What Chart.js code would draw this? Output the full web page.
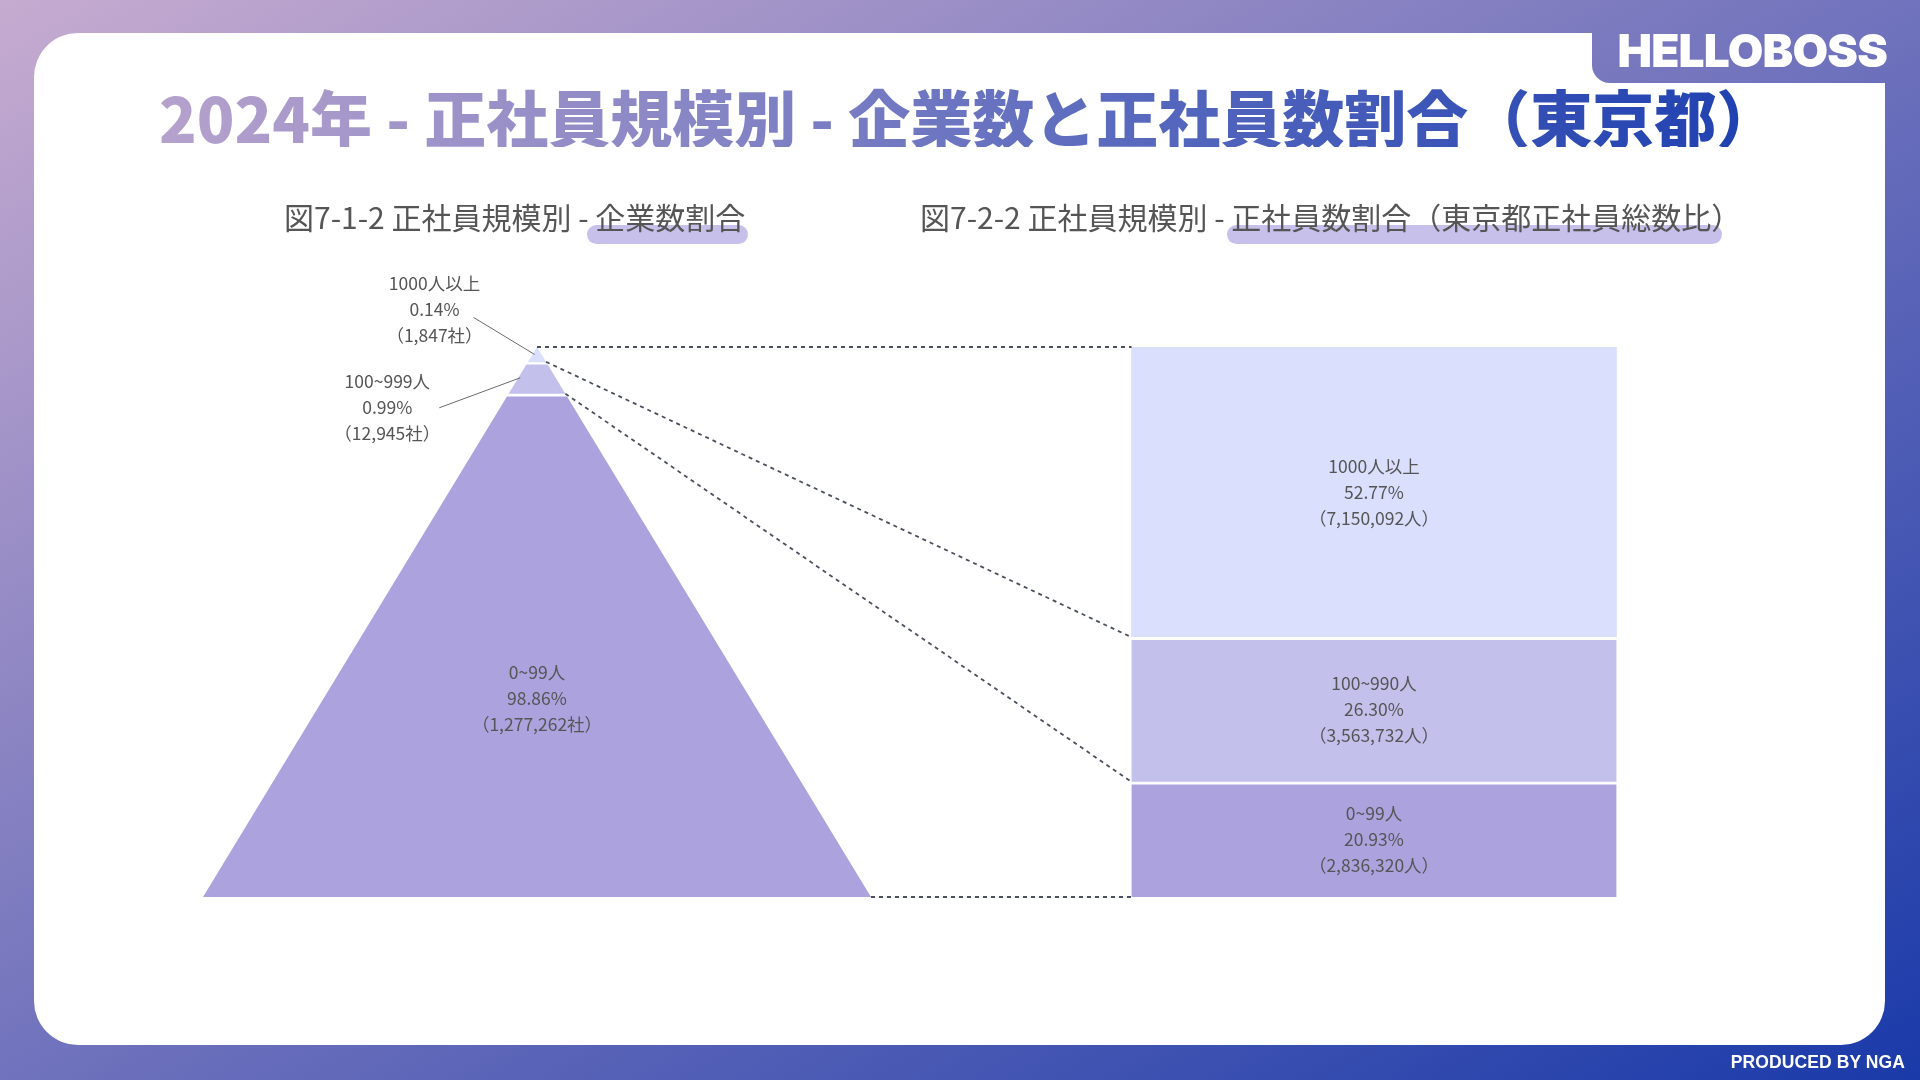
<!DOCTYPE html>
<html lang="ja">
<head>
<meta charset="utf-8">
<title>2024年 - 正社員規模別 - 企業数と正社員数割合（東京都）</title>
<script src="https://cdn.jsdelivr.net/npm/chart.js"></script>
<style>
  html, body { margin: 0; padding: 0; }
  body {
    width: 1920px; height: 1080px; overflow: hidden; position: relative;
    background: linear-gradient(to bottom right, #c6abd0, #1a3aa9);
    font-family: "Noto Sans CJK JP", "Noto Sans", sans-serif;
  }
  .card {
    position: absolute; left: 34px; top: 33px; width: 1851px; height: 1012px;
    background: #fff; border-radius: 44px;
  }
  .tab {
    position: absolute; left: 1592px; top: 0; width: 328px; height: 83px;
    border-bottom-left-radius: 18px;
    background: linear-gradient(to bottom right, #c6abd0, #1a3aa9);
    background-size: 1920px 1080px; background-position: -1592px 0;
  }
  .brand {
    position: absolute; right: 33px; top: 27px; z-index: 3;
    font-family: Inter, Roboto, sans-serif; font-weight: 900; font-size: 46px;
    line-height: 46px; color: #fff; letter-spacing: -0.8px;
  }
  .credit {
    position: absolute; right: 15px; top: 1054px; z-index: 3;
    font-family: "Liberation Sans", Arial, sans-serif; font-weight: 700; font-size: 17.5px;
    line-height: 17.5px; color: #fff; letter-spacing: 0.1px;
  }
  .title {
    position: absolute; left: 159px; top: 85px; z-index: 3;
    font-size: 62px; line-height: 62px; font-weight: 900; white-space: nowrap;
    background: linear-gradient(90deg, #b5a1cc 0%, #8d89c6 30%, #5567bd 62%, #1d3fb0 100%);
    -webkit-background-clip: text; background-clip: text; color: transparent;
  }
  .sub {
    position: absolute; top: 201px; z-index: 3;
    font-size: 30px; line-height: 30px; color: #555; white-space: nowrap;
  }
  .sub .mark { position: relative; }
  .sub .mark::before {
    content: ""; position: absolute; z-index: -1;
    left: -8px; right: -3px; top: 31px; height: 19px;
    border-radius: 10px; background: #c7c0ea;
  }
  .sub.right .mark::before { left: -4px; right: 19px; }
  #c { position: absolute; left: 0; top: 0; width: 1920px; height: 1080px; z-index: 2; }
</style>
</head>
<body>
<div class="card"></div>
<div class="tab"></div>
<div class="brand">HELLOBOSS</div>
<div class="title">2024年 - 正社員規模別 - 企業数と正社員数割合（東京都）</div>
<div class="sub" style="left:284px">図7-1-2 正社員規模別 - <span class="mark">企業数割合</span></div>
<div class="sub right" style="left:920px">図7-2-2 正社員規模別 - <span class="mark">正社員数割合（東京都正社員総数比）</span></div>
<canvas id="c" width="1920" height="1080"></canvas>
<div class="credit">PRODUCED BY NGA</div>

<script>
// 企業数（左のピラミッド）
const companyTiers = ['0~99人', '100~999人', '1000人以上'];
const companyShare = [98.86, 0.99, 0.14];
const companyCount = [1277262, 12945, 1847];

// 正社員数（右の積み上げ棒）
const employeeTiers = ['0~99人', '100~990人', '1000人以上'];
const employeeShare = [20.93, 26.30, 52.77];
const employeeCount = [2836320, 3563732, 7150092];

const groups = ['企業数割合', '正社員数割合'];
const tierColors = ['#aca3de', '#c3c0eb', '#dadffe'];

// power scale so the tiny top tiers of the pyramid stay visible
class PowerScale extends Chart.LinearScale {
  getPixelForValue(value) {
    if (value === null || value === undefined) return NaN;
    const t = (value - this._startValue) / this._valueRange;
    const p = this.options.exponent || 1;
    return this.getPixelForDecimal(Math.sign(t) * Math.pow(Math.abs(t), p));
  }
  getValueForPixel(pixel) {
    const d = Math.max(this.getDecimalForPixel(pixel), 0);
    return this._startValue + Math.pow(d, 1 / (this.options.exponent || 1)) * this._valueRange;
  }
}
PowerScale.id = 'power';
PowerScale.defaults = Chart.LinearScale.defaults;
Chart.register(PowerScale);

const fmt = (n) => n.toLocaleString('en-US');
const sepBorder = (i) => (i < 2 ? { top: 3, right: 0, bottom: 0, left: 0 } : 0);

const datasets = [];
// pyramid, stacked from the apex down
[2, 1, 0].forEach((i) => {
  datasets.push({
    label: companyTiers[i],
    data: [companyShare[i], null],
    yAxisID: 'yp',
    backgroundColor: tierColors[i],
    borderColor: '#ffffff',
    borderWidth: sepBorder(i),
    borderSkipped: false,
    barThickness: 668,
    grouped: false,
  });
});
// employee bar, stacked from the bottom up
[0, 1, 2].forEach((i) => {
  datasets.push({
    label: employeeTiers[i],
    data: [null, employeeShare[i]],
    yAxisID: 'y',
    backgroundColor: tierColors[i],
    borderColor: '#ffffff',
    borderWidth: sepBorder(i),
    borderSkipped: false,
    barThickness: 485,
    grouped: false,
  });
});

function pyramidGeom(chart) {
  const yp = chart.scales.yp;
  const el = chart.getDatasetMeta(0).data[0];
  return { cx: el.x, half: el.width / 2, top: yp.getPixelForValue(0), bottom: yp.getPixelForValue(100) };
}

function drawLines(ctx, lines, x, y, gap) {
  lines.forEach((t, k) => ctx.fillText(t, x, y + (k - 1) * gap));
}

const pyramidPlugin = {
  id: 'pyramid',
  beforeDatasetDraw(chart, args) {
    if (args.meta.yAxisID !== 'yp') return;
    const g = pyramidGeom(chart);
    const ctx = chart.ctx;
    ctx.save();
    ctx.beginPath();
    ctx.moveTo(g.cx, g.top);
    ctx.lineTo(g.cx + g.half, g.bottom);
    ctx.lineTo(g.cx - g.half, g.bottom);
    ctx.closePath();
    ctx.clip();
  },
  afterDatasetDraw(chart, args) {
    if (args.meta.yAxisID === 'yp') chart.ctx.restore();
  },
  afterDatasetsDraw(chart) {
    const ctx = chart.ctx;
    const g = pyramidGeom(chart);
    const yp = chart.scales.yp;
    const y = chart.scales.y;
    const barEl = chart.getDatasetMeta(3).data[1];
    const barLeft = barEl.x - barEl.width / 2;
    const edgeX = (py, side) => g.cx + side * g.half * (py - g.top) / (g.bottom - g.top);

    // dotted connectors between matching tier boundaries
    let cP = 0, cB = 0;
    const pts = [[0, 0]];
    [2, 1, 0].forEach((i) => { cP += companyShare[i]; cB += employeeShare[i]; pts.push([cP, cB]); });
    ctx.save();
    ctx.setLineDash([4, 4]);
    ctx.strokeStyle = '#4a4f5a';
    ctx.lineWidth = 1.8;
    pts.forEach(([p, b], k) => {
      const py = k === pts.length - 1 ? g.bottom : yp.getPixelForValue(p);
      const by = k === pts.length - 1 ? y.getPixelForValue(0) : y.getPixelForValue(100 - b);
      ctx.beginPath();
      ctx.moveTo(edgeX(py, 1), py);
      ctx.lineTo(barLeft, by);
      ctx.stroke();
    });
    ctx.restore();

    ctx.save();
    ctx.font = '17.5px "Noto Sans CJK JP", "Noto Sans", sans-serif';
    ctx.fillStyle = '#555555';
    ctx.textAlign = 'center';
    ctx.textBaseline = 'middle';
    const gap = 26;

    // pyramid labels
    const outside = { 2: { lead: [-61, -37], text: [-100, -45] }, 1: { lead: [-81, 30], text: [-133, 30] } };
    [2, 1, 0].forEach((i, d) => {
      const el = chart.getDatasetMeta(d).data[0];
      const t0 = Math.min(el.y, el.base), t1 = Math.max(el.y, el.base);
      const lines = [companyTiers[i], companyShare[i].toFixed(2) + '%', '（' + fmt(companyCount[i]) + '社）'];
      if (outside[i]) {
        const my = (t0 + t1) / 2;
        const ax = edgeX(my, -1) + 2;
        const o = outside[i];
        ctx.save();
        ctx.strokeStyle = '#6b6b6b';
        ctx.lineWidth = 1;
        ctx.beginPath();
        ctx.moveTo(ax, my);
        ctx.lineTo(ax + o.lead[0], my + o.lead[1]);
        ctx.stroke();
        ctx.restore();
        drawLines(ctx, lines, ax + o.text[0], my + o.text[1], gap);
      } else {
        drawLines(ctx, lines, g.cx, t0 + 0.61 * (t1 - t0) - 2, gap);
      }
    });

    // employee bar labels
    [0, 1, 2].forEach((i, d) => {
      const el = chart.getDatasetMeta(3 + d).data[1];
      const lines = [employeeTiers[i], employeeShare[i].toFixed(2) + '%', '（' + fmt(employeeCount[i]) + '人）'];
      drawLines(ctx, lines, el.x, (el.y + el.base) / 2, gap);
    });
    ctx.restore();
  }
};

new Chart(document.getElementById('c'), {
  type: 'bar',
  data: { labels: groups, datasets },
  options: {
    responsive: false,
    devicePixelRatio: 1,
    animation: false,
    events: [],
    layout: { padding: { left: 118.5, right: 127.5, top: 347, bottom: 183 } },
    plugins: { legend: { display: false }, tooltip: { enabled: false } },
    scales: {
      x: { type: 'category', stacked: true, offset: true, display: false },
      y: { type: 'linear', stacked: true, min: 0, max: 100, display: false },
      yp: { type: 'power', exponent: 0.55, reverse: true, stacked: true, min: 0, max: 100, display: false },
    },
  },
  plugins: [pyramidPlugin],
});
</script>
</body>
</html>
